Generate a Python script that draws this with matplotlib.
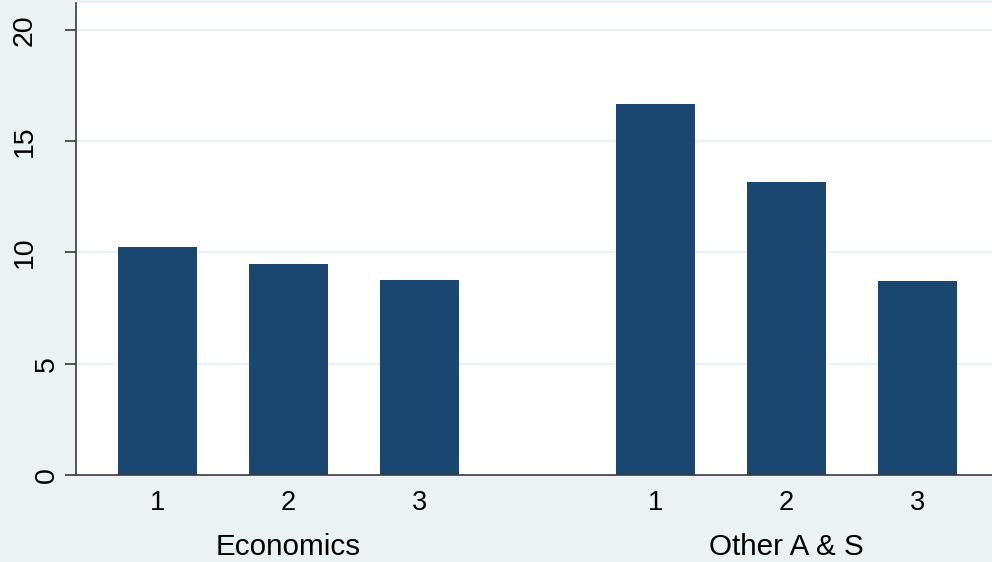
import numpy as np
import matplotlib.pyplot as plt
from matplotlib.transforms import offset_copy

plt.rcParams['font.family'] = ['Liberation Sans', 'DejaVu Sans']

# data
groups = ['Economics', 'Other A & S']
bar_labels = ['1', '2', '3']
econ = [10.25, 9.48, 8.76]
other = [16.67, 13.17, 8.72]
yticks = [0, 5, 10, 15, 20]

bg = '#EAF2F3'
navy = '#1A476F'
axcol = '#3a3a3a'

fig = plt.figure(figsize=(9.92, 5.62), dpi=100, facecolor=bg)
W, H = 992, 562
ax = fig.add_axes([76 / W, (H - 475) / H, (W - 76) / W, (475 - 3) / H])
ax.set_facecolor('white')

gap = 1.798  # distance between groups in bar units
pos1 = np.arange(len(econ))
pos2 = np.arange(len(other)) + len(econ) - 1 + gap
ax.bar(pos1, econ, width=0.6, color=navy, zorder=3)
ax.bar(pos2, other, width=0.6, color=navy, zorder=3)

ax.set_xlim(-0.622, pos2[-1] + 0.570)
ax.set_ylim(0, 21.2)

for v in yticks[1:]:
    ax.axhline(v, color=bg, lw=1.6, zorder=1)

for s in ['top', 'right']:
    ax.spines[s].set_visible(False)
for s in ['left', 'bottom']:
    ax.spines[s].set_color(axcol)
    ax.spines[s].set_linewidth(1.2)
    ax.spines[s].set_zorder(4)

ax.set_yticks(yticks)
ax.tick_params(axis='y', direction='out', length=8, width=1.2, color=axcol,
               labelleft=False)
ax.set_xticks([])

# y tick labels, rotated (shorter labels sit closer to the axis)
ytr = ax.get_yaxis_transform()
for v in yticks:
    lab = str(v)
    dx = -(29 if len(lab) == 1 else 51) * 0.72
    t = offset_copy(ytr, fig=fig, x=dx, y=0, units='points')
    ax.text(0, v, lab, transform=t, rotation=90, ha='center', va='center',
            fontsize=20.5, color='black')

# x tick labels and group labels
xtr = ax.get_xaxis_transform()
t1 = offset_copy(xtr, fig=fig, x=0, y=-35 * 0.72, units='points')
t2 = offset_copy(xtr, fig=fig, x=0, y=-80 * 0.72, units='points')
for p, lab in zip(list(pos1) + list(pos2), bar_labels * 2):
    ax.text(p, 0, lab, transform=t1, ha='center', va='baseline', fontsize=19.5)
for p, g in zip([pos1[1], pos2[1]], groups):
    ax.text(p, 0, g, transform=t2, ha='center', va='baseline', fontsize=21.3)

plt.savefig('out.png', dpi=100, facecolor=bg)
